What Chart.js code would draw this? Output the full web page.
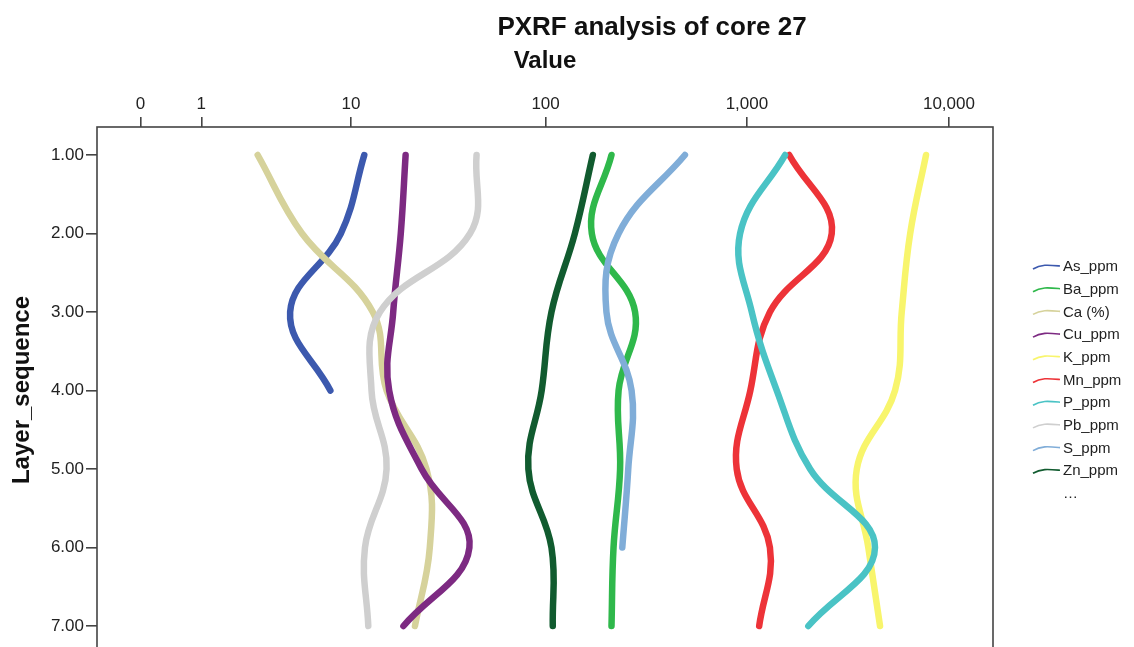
<!DOCTYPE html>
<html>
<head>
<meta charset="utf-8">
<script src="https://cdn.jsdelivr.net/npm/chart.js@4.4.1/dist/chart.umd.min.js"></script>
<style>
  html, body { margin: 0; padding: 0; background: #fff; overflow: hidden; }
  #wrap { width: 1134px; height: 653px; }
</style>
</head>
<body>
<div id="wrap"><canvas id="pxrf" width="1134" height="653"></canvas></div>
<script>
// values (raw units), one entry per layer
const layers = [1, 2, 3, 4, 5, 6, 7];
const asPpm = [11.8, 8.8, 4.5, 7.7];
const baPpm = [213, 170, 279, 231, 235, 218, 213];
const caPct = [2.8, 5.3, 13.1, 15.5, 25, 26, 21.8];
const cuPpm = [19.5, 18.4, 16.8, 16, 23.6, 41.4, 19];
const kPpm = [7700, 6430, 5840, 5410, 3500, 3990, 4560];
const mnPpm = [1620, 2630, 1300, 1040, 890, 1300, 1150];
const pPpm = [1545, 925, 1057, 1406, 2055, 4306, 2014];
const pbPpm = [45, 41.7, 14.3, 12.9, 15.5, 11.9, 12.4];
const sPpm = [493, 231, 201, 268, 258, 241];
const znPpm = [172, 140, 107, 95.6, 82, 107, 108.6];

const seriesNames = ["As_ppm", "Ba_ppm", "Ca (%)", "Cu_ppm", "K_ppm", "Mn_ppm", "P_ppm", "Pb_ppm", "S_ppm", "Zn_ppm"];
const seriesValues = [asPpm, baPpm, caPct, cuPpm, kPpm, mnPpm, pPpm, pbPpm, sPpm, znPpm];
const seriesColors = ["#3c59ae", "#2fb84b", "#d6d29b", "#7d2a82", "#f8f56c", "#ed3338", "#4ac3c5", "#cfcfcf", "#80add8", "#115b2f"];

const xTickValues = [0, 1, 10, 100, 1000, 10000];
const xTickLabels = ["0", "1", "10", "100", "1,000", "10,000"];

const FONT = 'Arial, "Liberation Sans", sans-serif';

// SPSS "safe log" scale
function safeLog(v) {
    return Math.log10(1 + v);
}

const datasets = seriesNames.map((name, i) => ({
    label: name,
    data: seriesValues[i].map((v, j) => ({ x: safeLog(v), y: layers[j] })),
    borderColor: seriesColors[i],
    backgroundColor: seriesColors[i],
    borderWidth: 6.5,
    borderCapStyle: "round",
    borderJoinStyle: "round",
    tension: 0.4,
    pointRadius: 0,
    fill: false,
    order: seriesNames.length - i
}));

const framePlugin = {
    id: "frame",
    afterDraw(chart) {
        const { ctx, chartArea } = chart;
        ctx.save();
        ctx.strokeStyle = "#444";
        ctx.lineWidth = 1.6;
        ctx.strokeRect(chartArea.left, chartArea.top, chartArea.right - chartArea.left, chartArea.bottom - chartArea.top);

        // title
        ctx.fillStyle = "#111";
        ctx.font = "bold 26px " + FONT;
        ctx.textAlign = "center";
        ctx.textBaseline = "alphabetic";
        ctx.fillText("PXRF analysis of core 27", 652, 35);

        // legend
        ctx.font = "15px " + FONT;
        ctx.textAlign = "left";
        ctx.textBaseline = "middle";
        const lx = 1033, ly = 267, step = 22.7;
        seriesNames.forEach((name, i) => {
            const y = ly + i * step;
            ctx.strokeStyle = seriesColors[i];
            ctx.lineWidth = 1.6;
            ctx.beginPath();
            ctx.moveTo(lx, y + 2);
            ctx.bezierCurveTo(lx + 8, y - 3, lx + 16, y - 2, lx + 27, y - 1);
            ctx.stroke();
            ctx.fillStyle = "#222";
            ctx.fillText(name, lx + 30, y);
        });
        ctx.fillText("\u2026", lx + 30, ly + seriesNames.length * step);
        ctx.restore();
    }
};

new Chart(document.getElementById("pxrf"), {
    type: "line",
    data: { datasets: datasets },
    options: {
        responsive: false,
        animation: false,
        layout: { padding: { left: 0, top: 0, right: 141, bottom: 0 } },
        plugins: {
            legend: { display: false },
            tooltip: { enabled: false }
        },
        scales: {
            x: {
                type: "linear",
                position: "top",
                min: -0.2152,
                max: 4.218,
                afterBuildTicks: (scale) => {
                    scale.ticks = xTickValues.map(v => ({ value: safeLog(v) }));
                },
                afterFit: (scale) => {
                    scale.height = 127;
                    scale.paddingLeft = 0;
                    scale.paddingRight = 0;
                },
                ticks: {
                    font: { family: FONT, size: 17 },
                    color: "#222",
                    padding: 2,
                    maxRotation: 0,
                    autoSkip: false,
                    callback: (value, index) => xTickLabels[index]
                },
                grid: {
                    drawOnChartArea: false,
                    drawTicks: true,
                    tickLength: 10,
                    color: "#444",
                    lineWidth: 1.6
                },
                border: { display: false },
                title: {
                    display: true,
                    text: "Value",
                    font: { family: FONT, size: 24, weight: "bold" },
                    color: "#111",
                    padding: { top: 47, bottom: 0 }
                }
            },
            y: {
                type: "linear",
                reverse: true,
                min: 0.643,
                max: 7.344,
                afterBuildTicks: (scale) => {
                    scale.ticks = layers.map(v => ({ value: v }));
                },
                afterFit: (scale) => {
                    scale.width = 97;
                    scale.paddingTop = 0;
                    scale.paddingBottom = 0;
                },
                ticks: {
                    font: { family: FONT, size: 17 },
                    color: "#222",
                    padding: 2,
                    callback: (value) => Number(value).toFixed(2)
                },
                grid: {
                    drawOnChartArea: false,
                    drawTicks: true,
                    tickLength: 11,
                    color: "#444",
                    lineWidth: 1.6
                },
                border: { display: false },
                title: {
                    display: true,
                    text: "Layer_sequence",
                    font: { family: FONT, size: 24, weight: "bold" },
                    color: "#111",
                    padding: { top: 8, bottom: 0 }
                }
            }
        }
    },
    plugins: [framePlugin]
});
</script>
</body>
</html>
